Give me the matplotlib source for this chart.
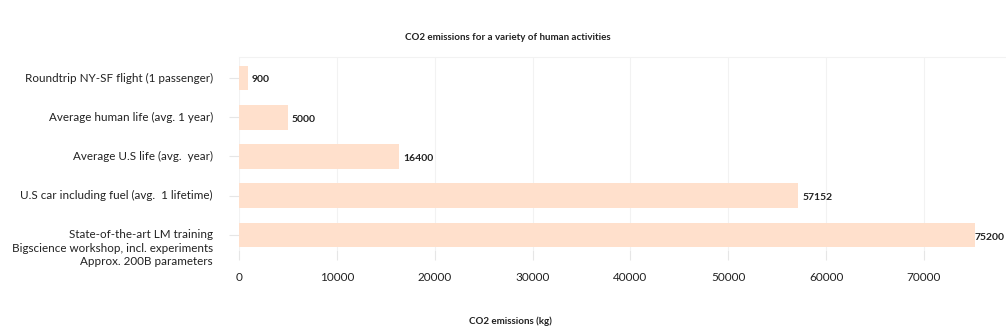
import matplotlib
matplotlib.use("Agg")
import matplotlib.pyplot as plt
from matplotlib.transforms import blended_transform_factory

categories = [
    "Roundtrip NY-SF flight (1 passenger)",
    "Average human life (avg. 1 year)",
    "Average U.S life (avg.  year)",
    "U.S car including fuel (avg.  1 lifetime)",
    "State-of-the-art LM training\nBigscience workshop, incl. experiments\nApprox. 200B parameters",
]
values = [900, 5000, 16400, 57152, 75200]
xticks = [0, 10000, 20000, 30000, 40000, 50000, 60000, 70000]

plt.rcParams['font.family'] = ['Lato', 'DejaVu Sans']

W, H = 1006, 336
fig = plt.figure(figsize=(W / 100, H / 100), dpi=100)
left_px, right_px, top_px, bottom_px = 239, 1005, 57, 250
ax = fig.add_axes([left_px / W, 1 - bottom_px / H,
                   (right_px - left_px) / W, (bottom_px - top_px) / H])

bar_color = '#ffe0cc'
ypos = list(range(len(values)))
ax.barh(ypos, values, height=0.63, color=bar_color, zorder=2)

xmax = (right_px - left_px) / (924 - 239) * 70000
ax.set_xlim(0, xmax)
ax.set_ylim(4 + 15 / 39.3, -21 / 39.3)

ax.set_xticks(xticks)
ax.set_xticklabels([str(t) for t in xticks], fontsize=8.5, color='#222222')
ax.tick_params(axis='x', length=7, width=0.8, color='#e6e6e6', pad=9)
ax.set_yticks(ypos)
ax.set_yticklabels([])
ax.tick_params(axis='y', length=7, width=0.8, color='#e6e6e6')
ax.grid(axis='x', color='#f2f2f2', linewidth=0.8, zorder=0)

for s in ['right', 'bottom', 'left']:
    ax.spines[s].set_visible(False)
ax.spines['top'].set_color('#f2f2f2')
ax.spines['top'].set_linewidth(0.8)

trans = blended_transform_factory(ax.transAxes, ax.transData)
for i, lab in enumerate(categories):
    dy = -13 if '\n' in lab else 0
    ax.annotate(lab, xy=(0, i), xycoords=trans, xytext=(-26, dy),
                textcoords='offset pixels', ha='right', va='center',
                fontsize=8.4, color='#222222', linespacing=1.32)

for i, v in enumerate(values):
    off = 0 if i == len(values) - 1 else 4
    ax.annotate(str(v), xy=(v, i), xytext=(off, -2), textcoords='offset pixels',
                ha='left', va='center', fontsize=7.5, fontweight='bold',
                color='#222222', annotation_clip=False)

fig.text(508 / W, 1 - 37 / H, "CO2 emissions for a variety of human activities",
         ha='center', va='center', fontsize=7, fontweight='bold', color='#222222')
fig.text(510 / W, 1 - 321 / H, "CO2 emissions (kg)",
         ha='center', va='center', fontsize=7, fontweight='bold', color='#222222')

fig.savefig("out.png", dpi=100)
